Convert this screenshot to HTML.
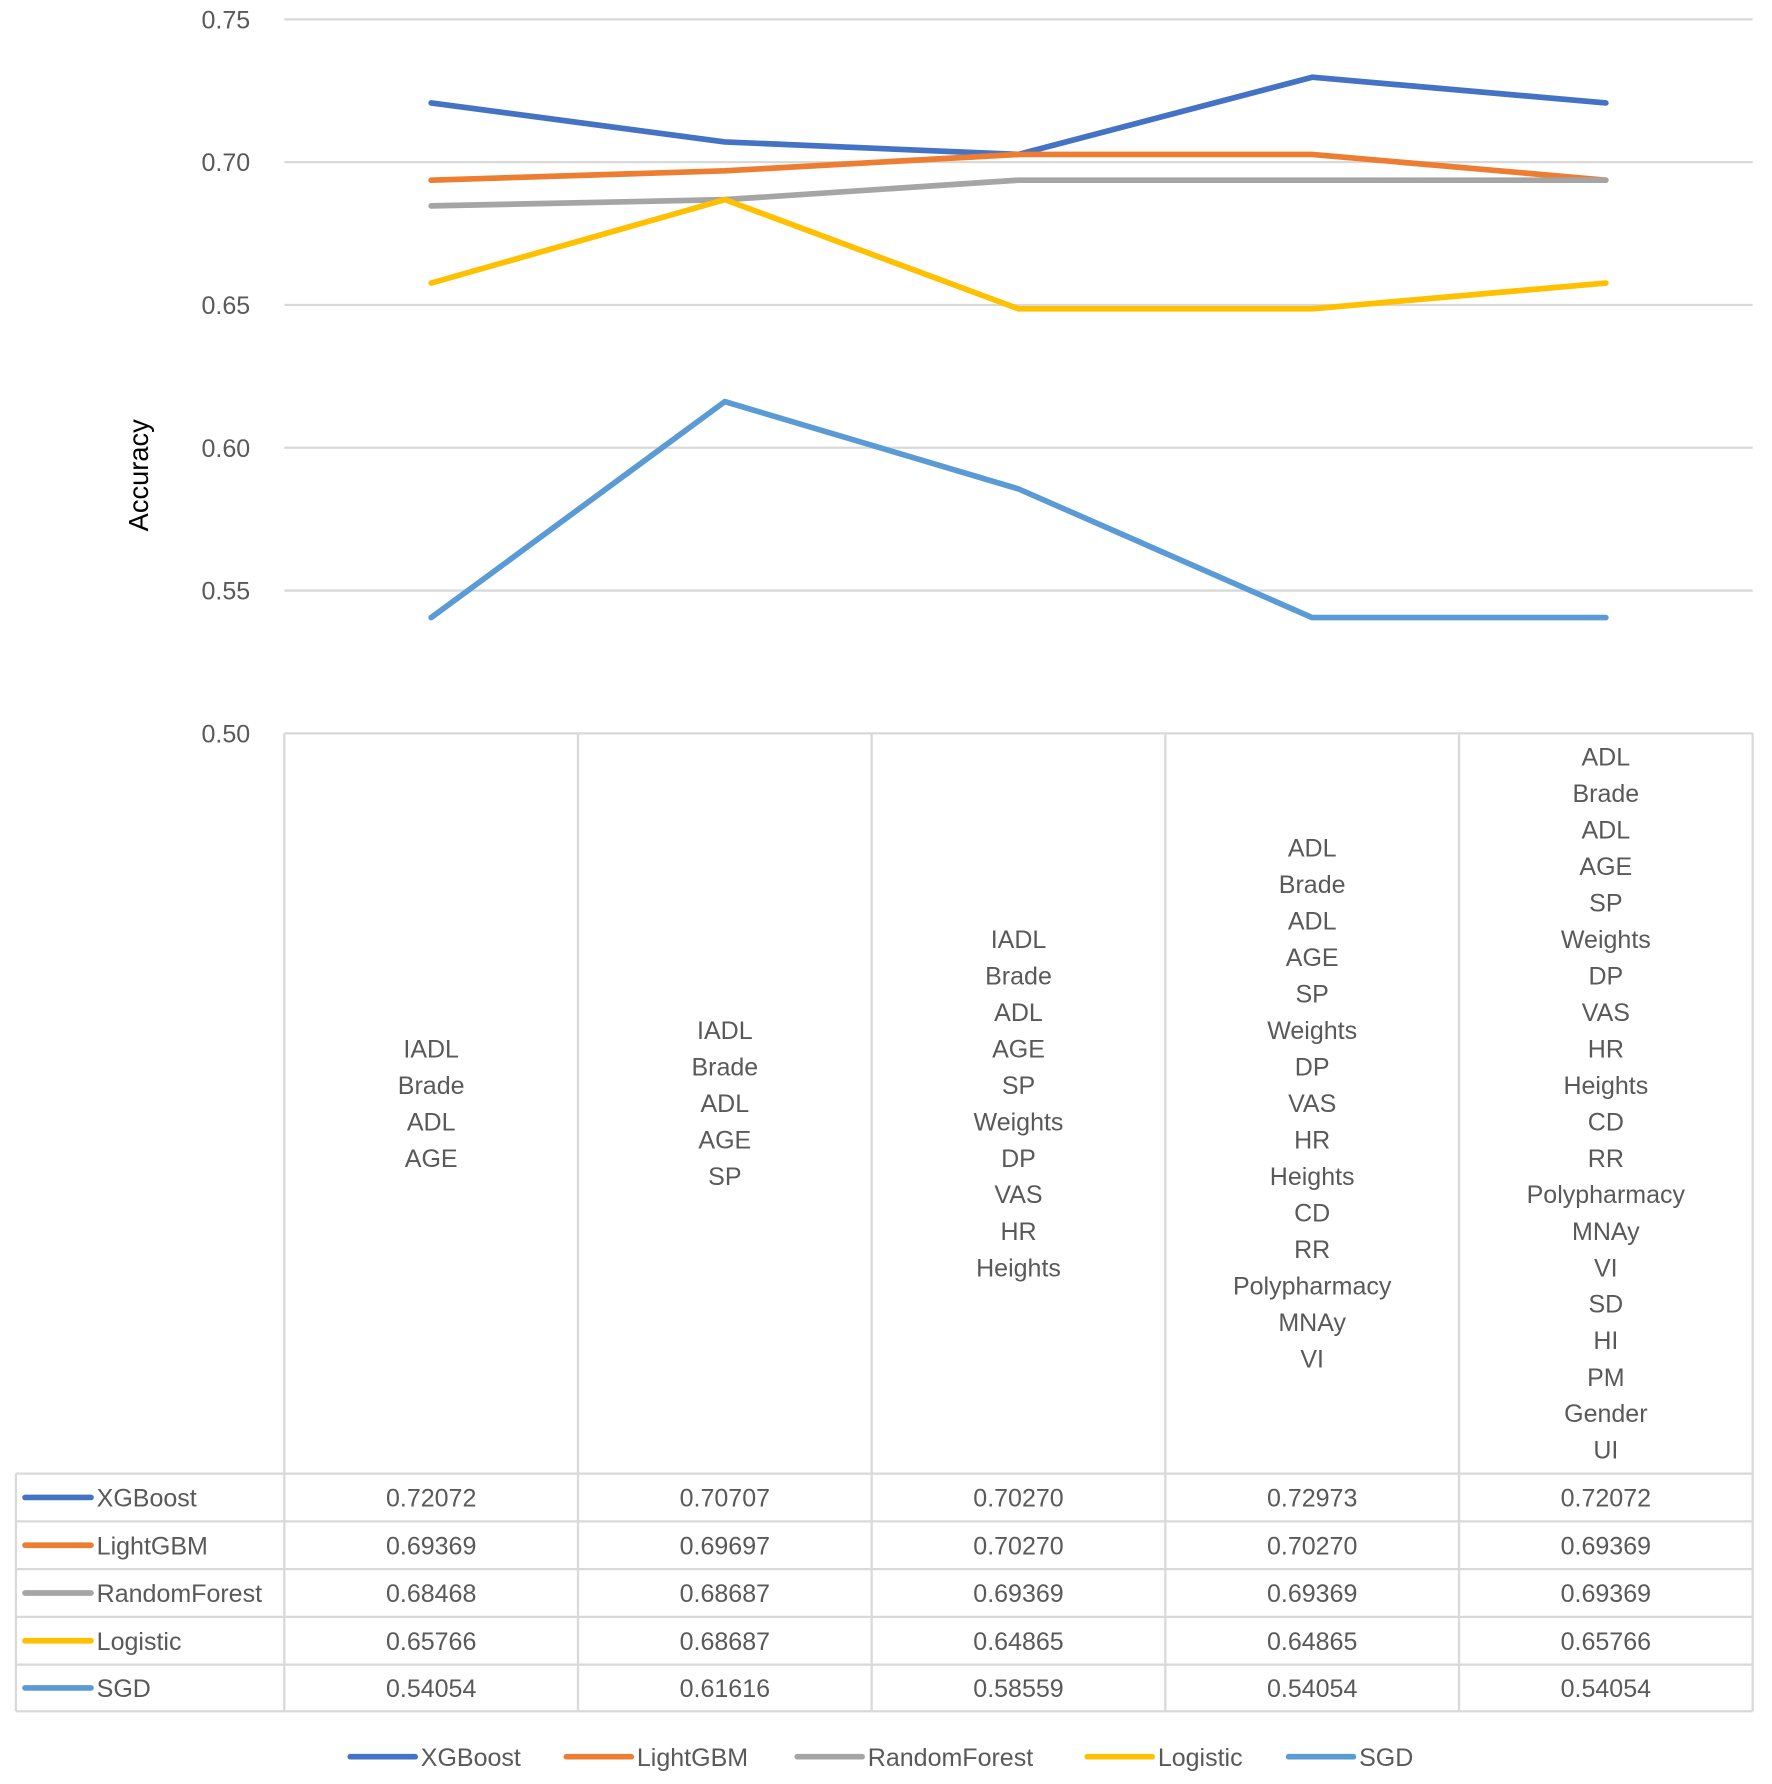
<!DOCTYPE html>
<html><head><meta charset="utf-8"><style>
html,body{margin:0;padding:0;background:#fff;}
svg{display:block;}
text{font-family:"Liberation Sans","DejaVu Sans",sans-serif;}
</style></head><body>
<svg id="chart" width="1772" height="1784" viewBox="0 0 1558 1569" preserveAspectRatio="none" xmlns="http://www.w3.org/2000/svg">
<g id="grid"></g>
<g id="yticks"></g>
<text transform="translate(130,418) rotate(-90)" text-anchor="middle" font-size="24" fill="#000">Accuracy</text>
<g id="table"></g>
<g id="lines"></g>
<g id="legend"></g>
</svg>
<script>
const categories = [
 ["IADL","Brade","ADL","AGE"],
 ["IADL","Brade","ADL","AGE","SP"],
 ["IADL","Brade","ADL","AGE","SP","Weights","DP","VAS","HR","Heights"],
 ["ADL","Brade","ADL","AGE","SP","Weights","DP","VAS","HR","Heights","CD","RR","Polypharmacy","MNAy","VI"],
 ["ADL","Brade","ADL","AGE","SP","Weights","DP","VAS","HR","Heights","CD","RR","Polypharmacy","MNAy","VI","SD","HI","PM","Gender","UI"]
];
const seriesNames = ["XGBoost","LightGBM","RandomForest","Logistic","SGD"];
const seriesColors = ["#4472C4","#ED7D31","#A5A5A5","#FFC000","#5B9BD5"];
const xgboost = [0.72072,0.70707,0.70270,0.72973,0.72072];
const lightgbm = [0.69369,0.69697,0.70270,0.70270,0.69369];
const randomForest = [0.68468,0.68687,0.69369,0.69369,0.69369];
const logistic = [0.65766,0.68687,0.64865,0.64865,0.65766];
const sgd = [0.54054,0.61616,0.58559,0.54054,0.54054];
const yTicks = [0.50,0.55,0.60,0.65,0.70,0.75];

const NS="http://www.w3.org/2000/svg";
const X0=250, X1=1541, Y0=645, Y1=17, VMIN=0.5, VMAX=0.75;
const colW=(X1-X0)/categories.length;
function xPos(i){return X0+colW*(i+0.5);}
function yPos(v){return Y0-(v-VMIN)/(VMAX-VMIN)*(Y0-Y1);}
function mk(tag,attrs,parent){const e=document.createElementNS(NS,tag);for(const k in attrs)e.setAttribute(k,attrs[k]);parent.appendChild(e);return e;}
const grid=document.getElementById('grid'), yt=document.getElementById('yticks');
yTicks.forEach(v=>{
  if(v>VMIN){const l=mk('line',{x1:X0,x2:X1,y1:yPos(v),y2:yPos(v),stroke:'#D9D9D9','stroke-width':2},grid);
  
  }
  const t=mk('text',{x:220,y:yPos(v)+8,'text-anchor':'end','font-size':22,fill:'#595959'},yt);
  t.textContent=v.toFixed(2);
  
  
});
// table
const tb=document.getElementById('table');
const rowY=[1296,1338,1380,1422,1464,1505];
const bc='#D9D9D9';
for(let i=0;i<=categories.length;i++){
  const x=X0+colW*i;
  const l=mk('line',{x1:x,x2:x,y1:Y0,y2:1505,stroke:bc,'stroke-width':2},tb);
  
  
}
mk('line',{x1:14,x2:14,y1:1296,y2:1505,stroke:bc,'stroke-width':2},tb);
mk('line',{x1:X0,x2:X1,y1:Y0,y2:Y0,stroke:bc,'stroke-width':2},tb);
rowY.forEach(y=>{mk('line',{x1:14,x2:X1,y1:y,y2:y,stroke:bc,'stroke-width':2},tb);});
categories.forEach((c,i)=>{
  const sp=32.1, mid=970, start=mid-(c.length-1)*sp/2;
  c.forEach((s,j)=>{
    const t=mk('text',{x:xPos(i),y:start+j*sp+8,'text-anchor':'middle','font-size':22,fill:'#595959'},tb);
    t.textContent=s;
    
    
  });
});
const allSeries=[xgboost,lightgbm,randomForest,logistic,sgd];
allSeries.forEach((vals,si)=>{
  const cy=(rowY[si]+rowY[si+1])/2;
  mk('line',{x1:22,x2:80,y1:cy,y2:cy,stroke:seriesColors[si],'stroke-width':5,'stroke-linecap':'round'},tb);
  const n=mk('text',{x:85,y:cy+8,'font-size':22,fill:'#595959'},tb);
  n.textContent=seriesNames[si];
  
  
  vals.forEach((v,i)=>{
    const t=mk('text',{x:xPos(i),y:cy+8,'text-anchor':'middle','font-size':22,fill:'#595959'},tb);
    t.textContent=v.toFixed(5);
    
    
  });
});
// lines
const lg=document.getElementById('lines');
allSeries.forEach((vals,si)=>{
  const pts=vals.map((v,i)=>xPos(i)+','+yPos(v)).join(' ');
  const p=mk('polyline',{points:pts,fill:'none',stroke:seriesColors[si],'stroke-width':5,'stroke-linejoin':'round','stroke-linecap':'round'},lg);
  
  
});
// legend
const leg=document.getElementById('legend');
const legX=[305,495,698,953,1130];
seriesNames.forEach((n,si)=>{
  const g=mk('g',{},leg);
  
  
  mk('line',{x1:legX[si]+3,x2:legX[si]+60,y1:1545,y2:1545,stroke:seriesColors[si],'stroke-width':5,'stroke-linecap':'round'},g);
  const t=mk('text',{x:legX[si]+65,y:1553,'font-size':22,fill:'#595959'},g);
  t.textContent=n;
});
</script>
</body></html>
